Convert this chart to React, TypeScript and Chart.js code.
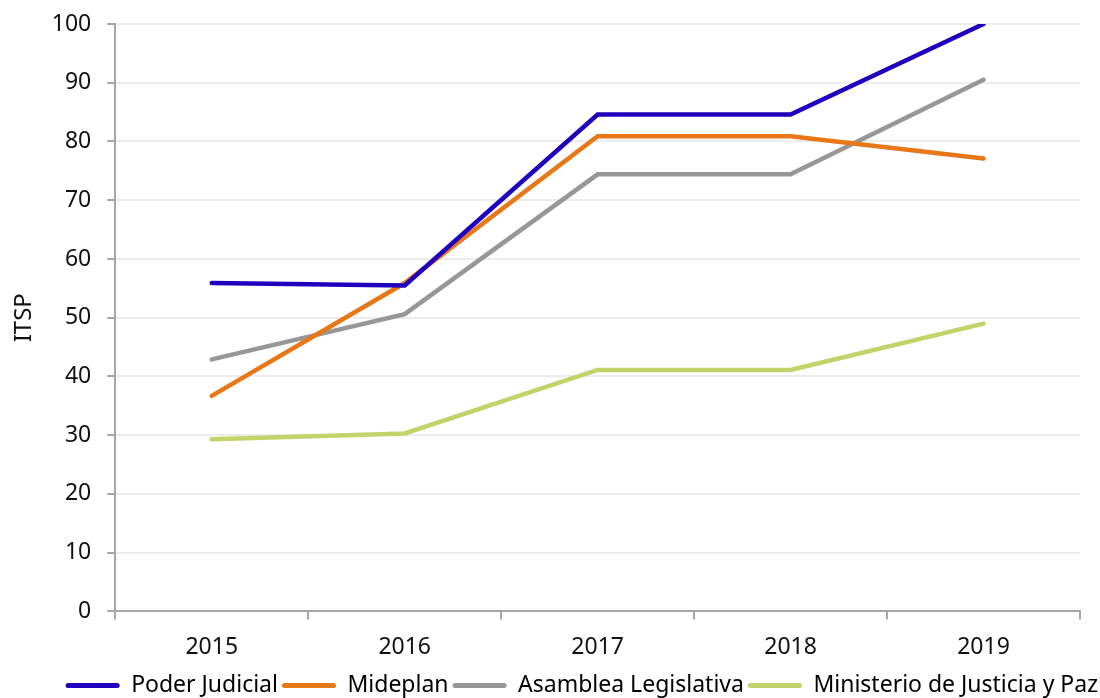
import React, { useEffect, useRef } from "react";
import { Chart, registerables } from "chart.js";

Chart.register(...registerables);

const years = ["2015", "2016", "2017", "2018", "2019"];
const poderJudicial = [55.9, 55.5, 84.6, 84.6, 100];
const mideplan = [36.7, 55.9, 80.9, 80.9, 77.1];
const asamblea = [42.9, 50.6, 74.4, 74.4, 90.5];
const ministerio = [29.3, 30.3, 41.1, 41.1, 49.0];
const seriesNames = ["Poder Judicial", "Mideplan", "Asamblea Legislativa", "Ministerio de Justicia y Paz"];
const seriesColors = ["#1F00BE", "#E87817", "#979797", "#C0D46A"];
const yTicks = [0, 10, 20, 30, 40, 50, 60, 70, 80, 90, 100];

const FONT = "'Noto Sans', sans-serif";
const FS = 23;
const LEGEND_SHIFT = 22;

const legendShift = {
  id: "legendShift",
  afterLayout(chart: any) {
    if (chart.legend) {
      chart.legend.left += LEGEND_SHIFT;
      chart.legend.right += LEGEND_SHIFT;
    }
  },
};

export default function App() {
  const ref = useRef<HTMLCanvasElement>(null);
  useEffect(() => {
    if (!ref.current) return;
    const values = [poderJudicial, mideplan, asamblea, ministerio];
    const chart = new Chart(ref.current, {
      type: "line",
      data: {
        labels: years,
        datasets: values.map((v, i) => ({
          label: seriesNames[i],
          data: v,
          borderColor: seriesColors[i],
          backgroundColor: seriesColors[i],
          borderWidth: 4.5,
          pointRadius: 0,
          tension: 0,
          borderCapStyle: "round" as const,
          borderJoinStyle: "miter" as const,
        })),
      },
      plugins: [legendShift],
      options: {
        animation: false,
        responsive: true,
        maintainAspectRatio: false,
        layout: { padding: { left: 8, right: 20, top: 24, bottom: -9 } },
        plugins: {
          tooltip: { enabled: false },
          legend: {
            position: "bottom",
            align: "end",
            labels: {
              font: { family: FONT, size: FS },
              color: "#111",
              boxWidth: 54,
              boxHeight: 5,
              padding: 4,
              useBorderRadius: true,
              borderRadius: 2.5,
              generateLabels: (c: any) =>
                c.data.datasets.map((d: any, i: number) => ({
                  text: d.label,
                  fillStyle: d.borderColor,
                  strokeStyle: d.borderColor,
                  lineWidth: 0,
                  borderRadius: 2.5,
                  datasetIndex: i,
                  hidden: false,
                })),
            },
          },
        },
        scales: {
          x: {
            offset: true,
            afterFit: (s: any) => {
              s.height -= 5;
            },
            grid: {
              offset: true,
              drawOnChartArea: false,
              drawTicks: true,
              tickLength: 8,
              color: "#a6a6a6",
              lineWidth: 2,
            },
            border: { color: "#a6a6a6", width: 2 },
            ticks: { font: { family: FONT, size: FS }, color: "#111", padding: 14 },
          },
          y: {
            min: 0,
            max: 100,
            afterBuildTicks: (s: any) => {
              s.ticks = yTicks.map((v) => ({ value: v }));
            },
            afterFit: (s: any) => {
              s.paddingTop = 0;
            },
            grid: {
              color: "#ececec",
              lineWidth: 2,
              tickColor: "#a6a6a6",
              tickLength: 8,
            },
            border: { color: "#a6a6a6", width: 2 },
            ticks: { font: { family: FONT, size: FS }, color: "#111", padding: 16 },
            title: {
              display: true,
              text: "ITSP",
              font: { family: FONT, size: 24 },
              color: "#111",
              padding: { top: 2, bottom: -3 },
            },
          },
        },
      },
    });
    return () => chart.destroy();
  }, []);
  return (
    <div style={{ position: "fixed", left: 0, top: 0, width: 1100, height: 698, background: "#fff" }}>
      <canvas ref={ref} />
    </div>
  );
}
